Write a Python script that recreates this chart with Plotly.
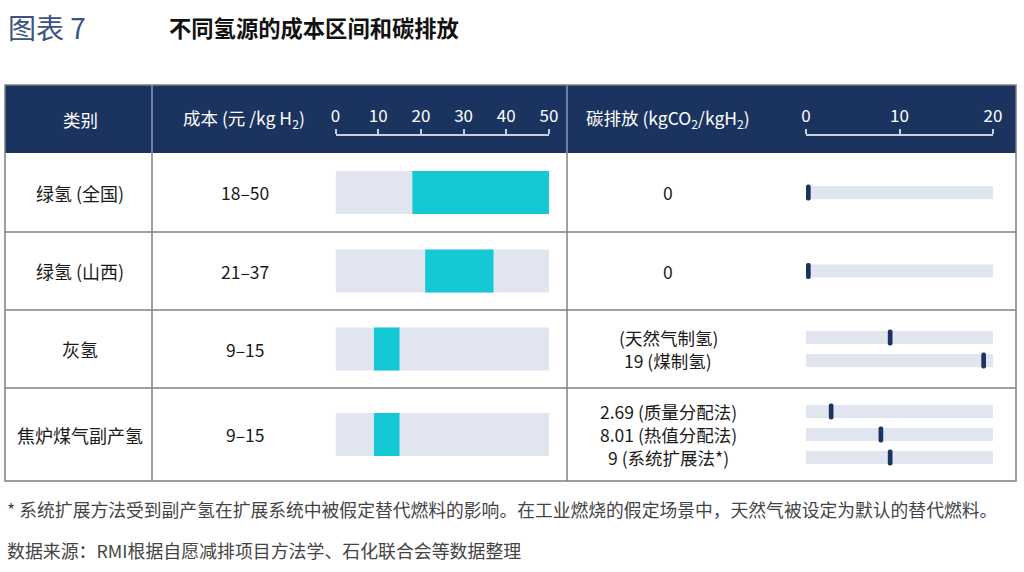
import plotly.graph_objects as go

# data
categories = ["绿氢 (全国)", "绿氢 (山西)", "灰氢", "焦炉煤气副产氢"]
cost_low = [18, 21, 9, 9]
cost_high = [50, 37, 15, 15]
cost_labels = ["18–50", "21–37", "9–15", "9–15"]

carbon_row = [0, 1, 2, 2, 3, 3, 3]
carbon_values = [0, 0, 9, 19, 2.69, 8.01, 9]
carbon_labels = ["0", "0", "(天然气制氢)", "19 (煤制氢)",
                 "2.69 (质量分配法)", "8.01 (热值分配法)", "9 (系统扩展法*)"]

cost_ticks = [0, 10, 20, 30, 40, 50]
carbon_ticks = [0, 10, 20]

# layout geometry (pixels)
W, H = 1024, 572
FONT = "Noto Sans CJK SC"
NAVY = "#1b335f"
CYAN = "#14c9d4"
BAND = "#e1e5f0"
GRID = "#7f7f7f"

left, right = 5, 1016
top, head_bot = 85, 153
row_h = [79, 78, 78, 93]
col1, col2 = 152, 567
cost_x0, cost_x1 = 335.5, 549
carb_x0, carb_x1 = 806, 993

bounds = [head_bot]
for h in row_h:
    bounds.append(bounds[-1] + h)
centers = [(bounds[i] + bounds[i + 1]) / 2 for i in range(len(row_h))]

sub_y = []
for i, r in enumerate(carbon_row):
    k = carbon_row.count(r)
    j = carbon_row[:i].count(r)
    sub_y.append(centers[r] + (j - (k - 1) / 2) * 23)

fig = go.Figure()

# cost bars
fig.add_trace(go.Bar(
    orientation="h", y=centers, x=[cost_ticks[-1]] * len(centers), base=0,
    width=43, marker=dict(color=BAND, line_width=0),
    xaxis="x", yaxis="y", hoverinfo="skip"))
fig.add_trace(go.Bar(
    orientation="h", y=centers, x=[h - l for l, h in zip(cost_low, cost_high)],
    base=cost_low, width=43, marker=dict(color=CYAN, line_width=0),
    xaxis="x", yaxis="y"))

# carbon bars
mw = 0.5
fig.add_trace(go.Bar(
    orientation="h", y=sub_y, x=[carbon_ticks[-1]] * len(sub_y), base=0,
    width=13, marker=dict(color=BAND, line_width=0),
    xaxis="x2", yaxis="y", hoverinfo="skip"))
fig.add_trace(go.Bar(
    orientation="h", y=sub_y, x=[mw] * len(sub_y),
    base=[max(0, v - mw / 2) for v in carbon_values],
    width=16, marker=dict(color=NAVY, line_width=0, cornerradius=2),
    xaxis="x2", yaxis="y"))

shapes = [
    dict(type="rect", xref="paper", yref="y", x0=left / W, x1=right / W,
         y0=top, y1=head_bot, fillcolor=NAVY, line_width=0, layer="below"),
    dict(type="rect", xref="paper", yref="y", x0=left / W, x1=right / W,
         y0=top, y1=bounds[-1], line=dict(color=GRID, width=1.5), layer="above"),
]
for b in bounds[1:-1]:
    shapes.append(dict(type="line", xref="paper", yref="y", x0=left / W, x1=right / W,
                       y0=b, y1=b, line=dict(color=GRID, width=1.5), layer="below"))
for c in (col1, col2):
    shapes.append(dict(type="line", xref="paper", yref="y", x0=c / W, x1=c / W,
                       y0=head_bot, y1=bounds[-1], line=dict(color=GRID, width=1.5), layer="below"))
    shapes.append(dict(type="line", xref="paper", yref="y", x0=c / W, x1=c / W,
                       y0=top, y1=head_bot, line=dict(color="#a9b3c6", width=1.2), layer="below"))

ann = []


def text(x, y, s, size=17.5, color="#1a1a1a", anchor="center", bold=False):
    if bold:
        s = "<b>" + s + "</b>"
    ann.append(dict(x=x / W, y=y, xref="paper", yref="y", text=s, showarrow=False,
                    xanchor=anchor, yanchor="middle",
                    font=dict(family=FONT, size=size, color=color)))


text(6, 27, "图表 7", size=28, color="#3b5282", anchor="left")
text(167, 27, "不同氢源的成本区间和碳排放", size=22.3, color="#111111", anchor="left", bold=True)

text(80, 119, "类别", color="white")
text(244, 119, "成本 (元 /kg H<sub>2</sub>)", color="white")
text(668, 119, "碳排放 (kgCO<sub>2</sub>/kgH<sub>2</sub>)", color="white")

for i, c in enumerate(categories):
    text(80, centers[i], c, size=18)
    text(245, centers[i], cost_labels[i])
for i, s in enumerate(carbon_labels):
    text(668, sub_y[i], s)

text(5, 509, "* 系统扩展方法受到副产氢在扩展系统中被假定替代燃料的影响。在工业燃烧的假定场景中，天然气被设定为默认的替代燃料。",
     size=17.8, color="#444444", anchor="left")
text(5, 550, "数据来源：RMI根据自愿减排项目方法学、石化联合会等数据整理",
     size=17.9, color="#444444", anchor="left")

axis_common = dict(side="top", anchor="free", position=1 - 135 / H, automargin=False,
                   showline=True, linecolor="#c9d0dc", linewidth=1.5,
                   ticks="outside", ticklen=5, tickcolor="#c9d0dc", tickwidth=1.5,
                   showgrid=False, zeroline=False, fixedrange=True,
                   tickfont=dict(family=FONT, size=17, color="white"))

fig.update_layout(
    width=W, height=H, autosize=False,
    margin=dict(l=0, r=0, t=0, b=0, pad=0, autoexpand=False),
    paper_bgcolor="white", plot_bgcolor="rgba(0,0,0,0)",
    barmode="overlay", showlegend=False,
    xaxis=dict(domain=[cost_x0 / W, cost_x1 / W], range=[0, cost_ticks[-1]],
               tickvals=cost_ticks, **axis_common),
    xaxis2=dict(domain=[carb_x0 / W, carb_x1 / W], range=[0, carbon_ticks[-1]],
                tickvals=carbon_ticks, **axis_common),
    yaxis=dict(domain=[0, 1], range=[H, 0], visible=False, fixedrange=True,
               automargin=False),
    shapes=shapes, annotations=ann,
)

# page without body margin, so the figure sits at the window origin
page_css = ("var s=document.documentElement.style;s.margin='0';s.overflow='hidden';"
            "var b=document.body.style;b.margin='0';b.padding='0';b.overflow='hidden';")
fig.write_html("out.html", config={"displayModeBar": False, "responsive": False},
               post_script=page_css)
